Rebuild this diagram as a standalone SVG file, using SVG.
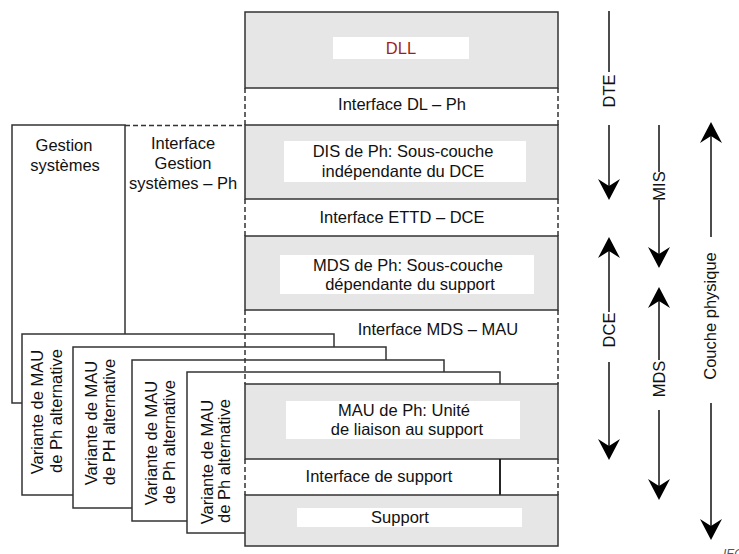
<svg xmlns="http://www.w3.org/2000/svg" width="739" height="554" viewBox="0 0 739 554">
<style>
text{font-family:"Liberation Sans",Arial,sans-serif;font-size:16.5px;fill:#111;}
.c{text-anchor:middle;}
.box{fill:#e6e6e6;stroke:#333;stroke-width:1.5;}
.card{fill:#fff;stroke:#333;stroke-width:1.5;}
.lbl{fill:#fff;stroke:none;}
.dash{fill:none;stroke:#333;stroke-width:1.5;stroke-dasharray:5 3;}
.ln{fill:none;stroke:#111;stroke-width:1.5;}
.arr{fill:none;stroke:#111;stroke-width:1.5;marker-end:url(#ah);}
</style>
<defs>
<marker id="ah" viewBox="-10 -12 24 24" markerWidth="24" markerHeight="24" refX="0" refY="0" orient="auto" markerUnits="userSpaceOnUse">
<path d="M12,0 L-9,-11 L-2,0 L-9,11 Z" fill="#000"/>
</marker>
</defs>
<rect width="739" height="554" fill="#fff"/>

<g id="gestion">
<rect class="card" x="12" y="125" width="113" height="278"/>
<text class="c" x="64" y="151">Gestion</text>
<text class="c" x="65" y="171">systèmes</text>
</g>

<g id="card1">
<rect class="card" x="22" y="334" width="312" height="161"/>
<text class="c" transform="translate(43,412) rotate(-90)">Variante de MAU</text>
<text class="c" transform="translate(62,411) rotate(-90)">de Ph alternative</text>
</g>
<g id="card2">
<rect class="card" x="73" y="347" width="313" height="161"/>
<text class="c" transform="translate(97,423) rotate(-90)">Variante de MAU</text>
<text class="c" transform="translate(115,422) rotate(-90)">de PH alternative</text>
</g>
<g id="card3">
<rect class="card" x="132" y="360" width="312" height="161"/>
<text class="c" transform="translate(157,443) rotate(-90)">Variante de MAU</text>
<text class="c" transform="translate(175,442) rotate(-90)">de Ph alternative</text>
</g>
<g id="card4">
<rect class="card" x="187" y="372" width="313" height="161"/>
<text class="c" transform="translate(213,462) rotate(-90)">Variante de MAU</text>
<text class="c" transform="translate(230,461) rotate(-90)">de Ph alternative</text>
</g>

<g id="dll">
<rect class="box" x="245" y="12" width="313" height="76"/>
<rect class="lbl" x="333" y="37" width="136" height="22"/>
<text class="c" x="401" y="54" style="fill:#9c1f1f">DLL</text>
</g>
<g id="if-dl-ph">
<text class="c" x="402" y="110">Interface DL – Ph</text>
</g>
<g id="dis">
<rect class="box" x="245" y="125" width="313" height="74"/>
<rect class="lbl" x="284" y="141" width="242" height="41"/>
<text class="c" x="403" y="157">DIS de Ph: Sous-couche</text>
<text class="c" x="403" y="177">indépendante du DCE</text>
</g>
<g id="if-ettd-dce">
<text class="c" x="402" y="223">Interface ETTD – DCE</text>
</g>
<g id="mds">
<rect class="box" x="245" y="236" width="313" height="74"/>
<rect class="lbl" x="280" y="255" width="254" height="39"/>
<text class="c" x="408" y="271">MDS de Ph: Sous-couche</text>
<text class="c" x="410" y="290">dépendante du support</text>
</g>
<g id="if-mds-mau">
<text class="c" x="438" y="335">Interface MDS – MAU</text>
</g>
<g id="mau">
<rect class="box" x="245" y="384" width="313" height="75"/>
<rect class="lbl" x="286" y="401" width="234" height="38"/>
<text class="c" x="404" y="416">MAU de Ph: Unité</text>
<text class="c" x="407" y="435">de liaison au support</text>
</g>
<g id="if-support">
<line class="ln" x1="500" y1="459" x2="500" y2="495"/>
<text class="c" x="379" y="482">Interface de support</text>
</g>
<g id="support">
<rect class="box" x="245" y="495" width="313" height="51"/>
<rect class="lbl" x="297" y="508" width="225" height="19"/>
<text class="c" x="400" y="523">Support</text>
</g>
<g id="if-gestion">
<text class="c" x="183" y="149">Interface</text>
<text class="c" x="183" y="169">Gestion</text>
<text class="c" x="183" y="189">systèmes – Ph</text>
</g>

<g id="connectors">
<path class="dash" d="M125,125.5 H245"/>
<path class="dash" d="M245,88 V125 M245,199 V236 M245,310 V384 M245,459 V495"/>
<path class="dash" d="M558,88 V125 M558,199 V236 M558,310 V384 M558,459 V495"/>
<line class="ln" x1="609" y1="11" x2="609" y2="72"/>
<line class="arr" x1="609" y1="125" x2="609" y2="188"/>
<line class="arr" x1="609" y1="312" x2="609" y2="249"/>
<line class="arr" x1="609" y1="362" x2="609" y2="448"/>
<line class="ln" x1="659" y1="125" x2="659" y2="172"/>
<line class="arr" x1="659" y1="200" x2="659" y2="256"/>
<line class="arr" x1="659" y1="360" x2="659" y2="299"/>
<line class="arr" x1="659" y1="410" x2="659" y2="488"/>
<line class="arr" x1="711" y1="237" x2="711" y2="134"/>
<line class="arr" x1="711" y1="403" x2="711" y2="528"/>
</g>
<g id="axis-labels">
<text class="c" transform="translate(615,91) rotate(-90)">DTE</text>
<text class="c" transform="translate(615,330) rotate(-90)">DCE</text>
<text class="c" transform="translate(665,186) rotate(-90)">MIS</text>
<text class="c" transform="translate(665,379) rotate(-90)">MDS</text>
<text class="c" transform="translate(716,316) rotate(-90)">Couche physique</text>
</g>
<text x="723" y="558" style="font-size:12px;font-style:italic;fill:#555">IEC</text>
</svg>
